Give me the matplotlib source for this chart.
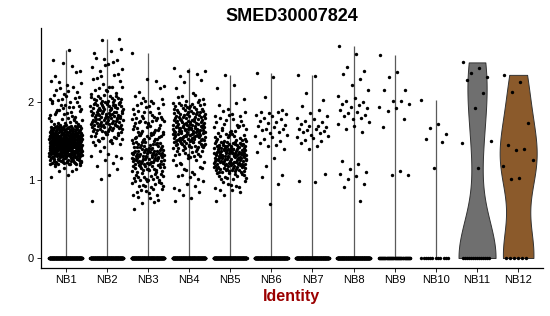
import matplotlib
matplotlib.use('Agg')
import matplotlib.pyplot as plt
import numpy as np

plt.rcParams['font.family'] = ['Liberation Sans', 'DejaVu Sans']

groups = ['NB1', 'NB2', 'NB3', 'NB4', 'NB5', 'NB6', 'NB7', 'NB8', 'NB9', 'NB10', 'NB11', 'NB12']
title = 'SMED30007824'

# zero-expression cells per cluster (rough, the row at 0 is saturated for NB1-NB8)
zero_counts = [300, 300, 300, 300, 300, 300, 300, 300, 60, 12, 14, 6]

# big clusters: counts of expressing cells per 0.1 bin (bin lower edge -> count)
bin_counts = {
    'NB1': {1.0: 2, 1.1: 6, 1.2: 40, 1.3: 80, 1.4: 100, 1.5: 90, 1.6: 55, 1.7: 15, 1.8: 10,
            1.9: 10, 2.0: 9, 2.1: 6, 2.2: 4, 2.3: 2, 2.4: 3, 2.5: 1, 2.6: 1},
    'NB2': {0.7: 1, 1.0: 2, 1.1: 2, 1.2: 3, 1.3: 4, 1.4: 5, 1.5: 14, 1.6: 22, 1.7: 28, 1.8: 28,
            1.9: 25, 2.0: 16, 2.1: 8, 2.2: 4, 2.3: 4, 2.4: 5, 2.5: 4, 2.6: 3, 2.7: 1, 2.8: 1},
    'NB3': {0.6: 1, 0.7: 5, 0.8: 8, 0.9: 12, 1.0: 14, 1.1: 20, 1.2: 30, 1.3: 32, 1.4: 22, 1.5: 16,
            1.6: 14, 1.7: 14, 1.8: 10, 1.9: 8, 2.0: 5, 2.1: 2, 2.2: 3, 2.6: 1},
    'NB4': {0.7: 2, 0.8: 3, 0.9: 4, 1.0: 5, 1.1: 6, 1.2: 7, 1.3: 12, 1.4: 25, 1.5: 35, 1.6: 35,
            1.7: 28, 1.8: 22, 1.9: 18, 2.0: 6, 2.1: 2, 2.2: 2, 2.3: 3, 2.4: 2},
    'NB5': {0.7: 1, 0.8: 4, 0.9: 7, 1.0: 12, 1.1: 28, 1.2: 40, 1.3: 42, 1.4: 32, 1.5: 14, 1.6: 10,
            1.7: 8, 1.8: 6, 1.9: 3, 2.0: 1, 2.1: 1, 2.2: 1, 2.3: 1},
}

# small clusters: expressing cells read one by one
nb6 = [2.38, 2.32, 2.06, 1.90, 1.88, 1.87, 1.86, 1.85, 1.84, 1.82, 1.80, 1.78, 1.76, 1.75, 1.73,
       1.71, 1.70, 1.68, 1.66, 1.65, 1.64, 1.62, 1.60, 1.58, 1.56, 1.55, 1.53, 1.50, 1.48, 1.45,
       1.44, 1.40, 1.36, 1.28, 1.18, 1.07, 1.04, 0.95, 0.69]
nb7 = [2.35, 2.33, 2.12, 2.03, 1.95, 1.90, 1.86, 1.82, 1.80, 1.78, 1.76, 1.74, 1.72, 1.70, 1.69,
       1.68, 1.66, 1.65, 1.64, 1.63, 1.62, 1.60, 1.58, 1.57, 1.55, 1.54, 1.52, 1.50, 1.47, 1.44,
       1.40, 1.08, 0.99, 0.98]
nb8 = [2.72, 2.62, 2.45, 2.40, 2.36, 2.30, 2.22, 2.15, 2.08, 2.05, 2.02, 2.00, 1.98, 1.96, 1.94,
       1.92, 1.90, 1.88, 1.86, 1.84, 1.82, 1.80, 1.78, 1.75, 1.72, 1.70, 1.66, 1.62, 1.24, 1.20,
       1.14, 1.10, 1.08, 1.05, 1.02, 0.95, 0.91, 0.73]
nb9 = [2.61, 2.39, 2.32, 2.15, 2.15, 2.01, 2.01, 1.98, 1.94, 1.92, 1.89, 1.79, 1.68, 1.12, 1.07, 1.07]
nb10 = [2.03, 1.72, 1.67, 1.59, 1.53, 1.49, 1.15]
nb11 = [2.51, 2.44, 2.38, 2.32, 2.29, 2.12, 1.93, 1.50, 1.47, 1.15]
nb12 = [2.35, 2.26, 2.13, 1.73, 1.45, 1.40, 1.39, 1.26, 1.18, 1.03, 1.02]

violin_colors = {'NB11': '#6f6f6f', 'NB12': '#8b5a2b'}


def vdc(idx, base):
    # van der Corput radical inverse (Halton sequence), a non-random spread
    out = np.zeros(len(idx))
    for j, i in enumerate(idx):
        k, f, r = i + 1, 1.0, 0.0
        while k:
            f /= base
            r += f * (k % base)
            k //= base
        out[j] = r
    return out


def bins_to_values(counts):
    vals = []
    start = 0
    for lo, c in counts.items():
        vals.extend(lo + vdc(np.arange(start, start + c), 3) * 0.1)
        start += c
    return np.array(vals)


def jitter(n, width=0.4):
    return (vdc(np.arange(n), 2) - 0.5) * 2 * width


def nrd0(kde):
    d = kde.dataset.ravel()
    sd = d.std(ddof=1)
    iqr = np.subtract(*np.percentile(d, [75, 25]))
    return 0.9 * min(sd, iqr / 1.34) * len(d) ** -0.2 / sd


expr = {g: bins_to_values(bin_counts[g]) for g in bin_counts}
expr.update({'NB6': np.array(nb6), 'NB7': np.array(nb7), 'NB8': np.array(nb8), 'NB9': np.array(nb9),
             'NB10': np.array(nb10), 'NB11': np.array(nb11), 'NB12': np.array(nb12)})

fig = plt.figure(figsize=(5.5, 3.16), dpi=100)
ax = fig.add_axes([0.0745, 0.152, 0.9125, 0.759])

pos = np.arange(1, len(groups) + 1)
for p, g, nz in zip(pos, groups, zero_counts):
    vals = np.concatenate([np.zeros(nz), expr[g]])
    if g in violin_colors:
        parts = ax.violinplot([vals], positions=[p], widths=0.9, showextrema=False,
                              bw_method=nrd0, points=512)
        for b in parts['bodies']:
            b.set_facecolor(violin_colors[g])
            b.set_edgecolor('#333333')
            b.set_linewidth(0.7)
            b.set_alpha(1)
    else:
        ax.vlines(p, 0, vals.max(), color='#5a5a5a', linewidth=0.9, zorder=1)

for p, g, nz in zip(pos, groups, zero_counts):
    ex = expr[g]
    ax.scatter(p + jitter(nz), np.zeros(nz), s=6, color='black', linewidths=0, zorder=3)
    ax.scatter(p + jitter(len(ex) + 7)[7:], ex, s=6, color='black', linewidths=0, zorder=3)

ax.set_xlim(0.4, 12.6)
ax.set_ylim(-0.128, 2.95)
ax.set_xticks(pos)
ax.set_xticklabels(groups)
ax.set_yticks([0, 1, 2])
ax.tick_params(axis='both', labelsize=8, length=3, width=0.6, pad=2, colors='black')
for s in ['top', 'right']:
    ax.spines[s].set_visible(False)
for s in ['left', 'bottom']:
    ax.spines[s].set_linewidth(0.9)

ax.set_xlabel('Identity', fontsize=11.5, fontweight='bold', color='#9b0000', labelpad=3)
ax.set_title(title, fontsize=13, fontweight='bold', pad=5)

fig.savefig('out.png', dpi=100)
